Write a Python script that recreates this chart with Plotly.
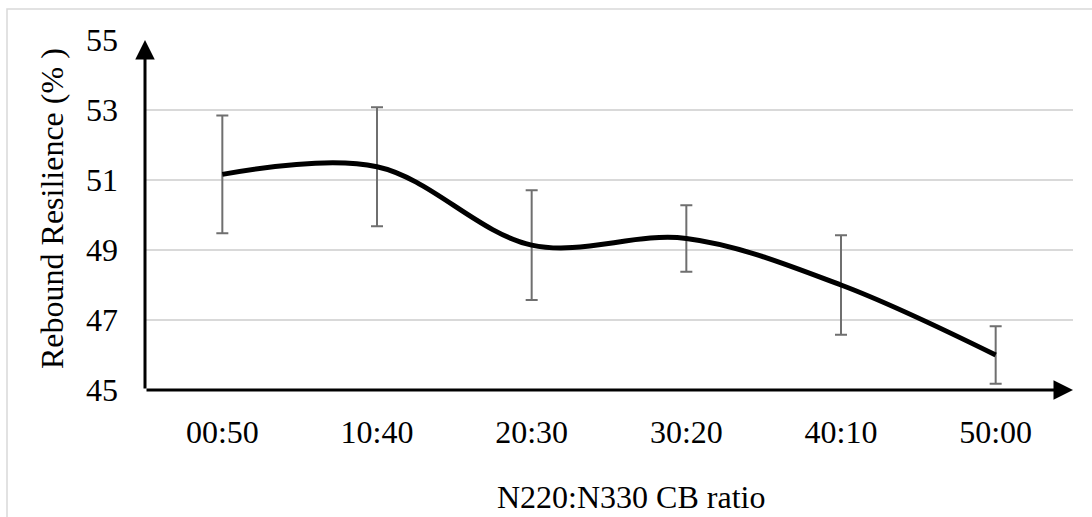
import plotly.graph_objects as go

categories = ["00:50", "10:40", "20:30", "30:20", "40:10", "50:00"]
resilience = [51.16, 51.38, 49.14, 49.33, 48.0, 46.0]
errors = [1.68, 1.70, 1.57, 0.95, 1.42, 0.82]
y_ticks = [45, 47, 49, 51, 53, 55]

FONT = "Liberation Serif"
FS = 32
W, H = 1092, 517
L, R, T, B = 145, 19, 40, 127
pw, ph = W - L - R, H - T - B

fig = go.Figure()
fig.add_trace(go.Scatter(
    x=categories, y=resilience, mode="lines",
    line=dict(color="black", width=5, shape="spline", smoothing=1.0),
    error_y=dict(type="data", array=errors, visible=True,
                 color="#6f6f6f", thickness=2, width=6),
    showlegend=False, hoverinfo="skip",
))

fig.update_layout(
    width=W, height=H,
    margin=dict(l=L, r=R, t=T, b=B),
    paper_bgcolor="white", plot_bgcolor="white",
    font=dict(family=FONT, size=FS, color="black"),
    xaxis=dict(type="category", range=[-0.5, 5.5], showgrid=False,
               showline=False, zeroline=False, ticks="",
               tickfont=dict(family=FONT, size=FS, color="black"),
               ticklabelstandoff=20),
    yaxis=dict(range=[45, 55], tickvals=y_ticks, showgrid=True,
               gridcolor="#d9d9d9", gridwidth=1.5, showline=False,
               zeroline=False, ticks="",
               tickfont=dict(family=FONT, size=FS, color="black"),
               ticklabelstandoff=26),
)

# outer chart frame
fig.add_shape(type="rect", xref="paper", yref="paper",
              x0=(7 - L) / pw, x1=(W + 20 - L) / pw,
              y0=-(H + 20 - T - ph) / ph, y1=1 + (T - 9) / ph,
              line=dict(color="#d9d9d9", width=1.5), layer="below")

# axes with arrowheads
fig.add_annotation(x=0, y=1, xref="paper", yref="paper", ax=0, ay=ph,
                   axref="pixel", ayref="pixel", text="", showarrow=True,
                   arrowhead=2, arrowsize=1.3, arrowwidth=3, arrowcolor="black")
fig.add_annotation(x=1, y=0, xref="paper", yref="paper", ax=-pw, ay=0,
                   axref="pixel", ayref="pixel", text="", showarrow=True,
                   arrowhead=2, arrowsize=1.3, arrowwidth=3, arrowcolor="black")

# axis titles
fig.add_annotation(x=(631 - L) / pw, y=-(497 - T - ph) / ph, xref="paper", yref="paper",
                   text="N220:N330 CB ratio", showarrow=False,
                   font=dict(family=FONT, size=FS, color="black"),
                   xanchor="center", yanchor="middle")
fig.add_annotation(x=(52 - L) / pw, y=1 - (209 - T) / ph, xref="paper", yref="paper",
                   text="Rebound Resilience (% )", showarrow=False, textangle=-90,
                   font=dict(family=FONT, size=FS, color="black"),
                   xanchor="center", yanchor="middle")

fig.write_html("out.html")
